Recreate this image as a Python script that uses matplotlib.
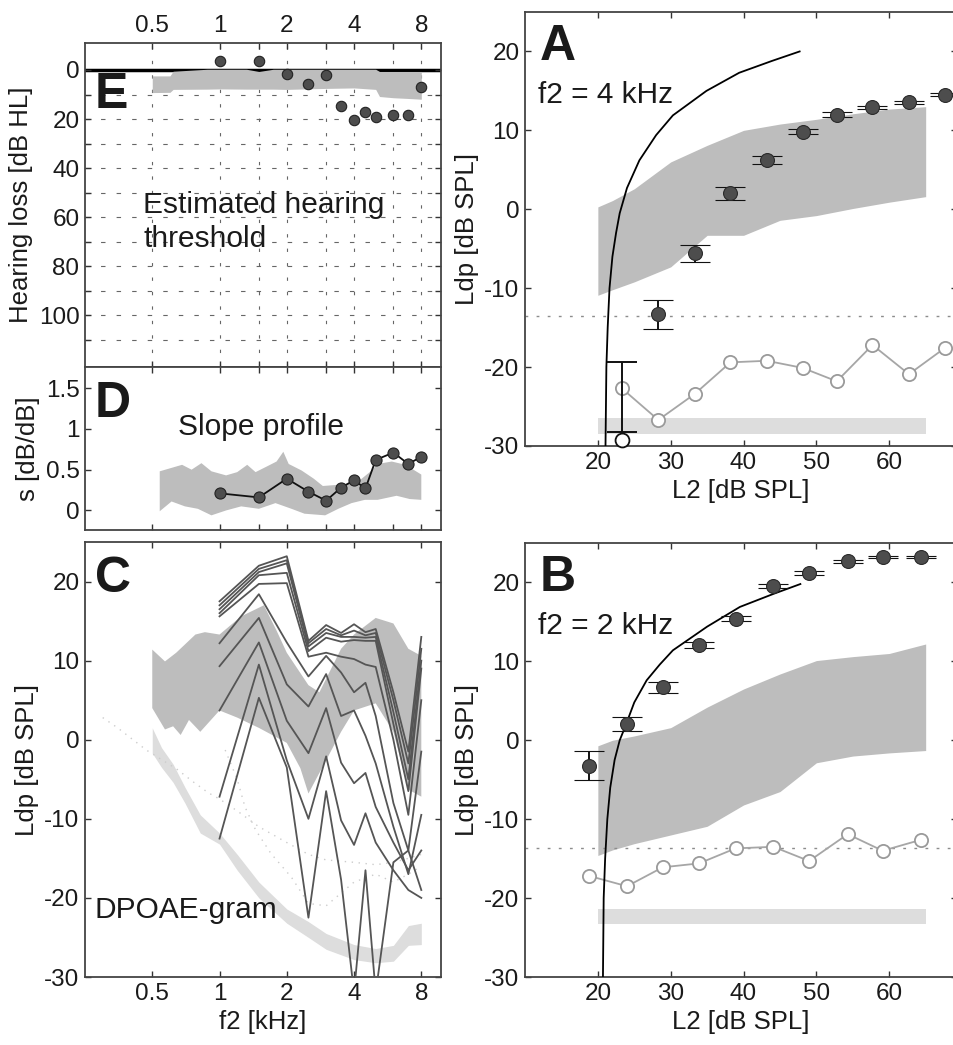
import matplotlib.pyplot as plt
from matplotlib.ticker import FixedLocator, NullFormatter

plt.rcParams['font.family'] = ['Liberation Sans', 'DejaVu Sans']
plt.rcParams['axes.unicode_minus'] = False

# ---- panel E: estimated hearing threshold
freq = [1, 1.5, 2, 2.5, 3, 3.5, 4, 4.5, 5, 6, 7, 8]
hl = [-3.7, -3.8, 1.6, 5.7, 2.0, 14.6, 20.3, 17.3, 19.2, 18.3, 18.3, 6.8]
hl_band_f = [0.5, 0.6, 0.62, 0.88, 1.0, 1.32, 1.5, 1.74, 2.0, 3.0, 4.0, 5.0, 5.2, 6.0, 7.0, 8.0]
hl_band_hi = [2.4, 2.4, 0.5, -0.3, -0.3, -0.3, 0.6, -0.3, -0.3, -0.3, -0.3, -0.3, 0.6, 0.6, 0.6, 0.6]
hl_band_lo = [9.2, 9.1, 7.9, 7.8, 7.7, 7.8, 7.8, 7.8, 7.9, 7.5, 7.3, 7.9, 10.8, 11.3, 11.6, 11.9]

# ---- panel D: slope profile
slope = [0.21, 0.16, 0.39, 0.23, 0.12, 0.28, 0.37, 0.27, 0.62, 0.71, 0.57, 0.66]
sb_f_hi = [0.54, 0.68, 0.75, 0.83, 0.92, 1.07, 1.2, 1.33, 1.45, 1.63, 1.8, 1.93, 2.04,
           2.33, 2.64, 2.9, 3.6, 4.2, 4.75, 5.1, 5.9, 6.8, 8.0]
sb_hi = [0.48, 0.56, 0.50, 0.58, 0.48, 0.43, 0.47, 0.56, 0.47, 0.54, 0.60, 0.72, 0.57,
         0.49, 0.39, 0.30, 0.32, 0.36, 0.48, 0.57, 0.60, 0.56, 0.44]
sb_f_lo = [0.54, 0.61, 0.7, 0.8, 0.92, 1.07, 1.25, 1.5, 1.78, 2.1, 2.4, 2.97, 3.4,
           3.9, 4.47, 5.1, 6.2, 7.1, 8.0]
sb_lo = [-0.01, 0.11, 0.05, 0.02, -0.06, 0.0, 0.05, 0.02, 0.09, 0.02, -0.04, -0.06, 0.02,
         0.09, 0.13, 0.13, 0.18, 0.14, 0.13]

# ---- panel C: DPOAE-gram (one row per L2 level, high to low)
dpgram = [
    [17.5, 22.0, 23.2, 12.5, 14.5, 13.5, 14.6, 13.6, 14.0, 6.0, -1.5, 13.0],
    [17.0, 21.6, 22.7, 12.2, 14.0, 13.2, 13.8, 13.2, 13.5, 5.0, -3.0, 11.5],
    [16.5, 21.2, 22.3, 11.8, 13.5, 13.0, 13.0, 12.9, 13.0, 3.5, -5.0, 10.0],
    [16.0, 20.8, 21.1, 11.2, 12.9, 12.4, 12.6, 12.5, 12.5, 2.0, -6.5, 9.0],
    [15.6, 19.7, 19.8, 10.5, 11.0, 10.5, 10.2, 9.5, 9.2, 0.0, -9.5, 5.0],
    [12.2, 18.4, 12.3, 8.0, 10.6, 8.5, 6.0, 7.2, 3.0, -8.0, -14.0, -1.5],
    [9.3, 15.4, 7.0, 4.2, 8.3, 3.0, 3.7, 0.5, -3.0, -11.0, -17.0, -9.5],
    [3.7, 12.3, 2.4, -1.7, 4.0, -2.9, -5.5, -4.2, -8.5, -13.0, -16.5, -14.0],
    [-7.2, 9.5, -2.6, -10.0, -2.1, -10.2, -13.3, -9.3, -13.0, -16.5, -19.0, -20.0],
    [-12.5, 5.3, -3.5, -22.5, -6.5, -17.7, -32.0, -16.5, -32.0, -15.5, -14.0, -19.0],
]
norm_f = [0.5, 0.57, 0.64, 0.78, 0.86, 1.0, 1.25, 1.58, 1.8, 2.0, 2.5, 2.8, 3.5, 4.0, 5.0, 6.0, 7.0, 8.0]
norm_hi = [11.4, 9.9, 11.0, 13.3, 13.6, 13.3, 15.6, 17.0, 13.8, 11.0, 6.9, 6.0, 11.5, 13.3, 15.4, 14.7, 11.5, 10.6]
norm_f_lo = [0.5, 0.57, 0.62, 0.67, 0.73, 0.82, 1.0, 1.2, 1.5, 2.0, 2.3, 2.5, 3.0, 3.5, 4.0, 5.0, 6.0, 7.0, 8.0]
norm_lo = [4.0, 1.3, 1.7, 0.6, 2.5, 1.0, 3.7, 2.8, 1.5, -0.4, -3.6, -6.8, -2.6, 1.0, 3.7, 4.6, 1.0, -6.3, -7.2]
nf_f = [0.5, 0.55, 0.62, 0.7, 0.82, 1.0, 1.2, 1.5, 2.0, 2.5, 3.0, 4.0, 5.0, 6.0, 7.0, 8.0]
nf_hi = [1.5, -1.0, -3.1, -6.0, -9.5, -11.8, -14.5, -18.0, -21.4, -23.0, -24.5, -25.9, -26.4, -26.0, -23.5, -23.2]
nf_lo = [-1.7, -3.5, -5.4, -8.0, -11.8, -13.2, -16.5, -20.0, -23.2, -25.0, -26.5, -27.8, -28.2, -28.0, -26.0, -25.9]
dots1_f = [0.3, 0.35, 0.41, 0.47, 0.55, 0.65, 0.76, 0.89, 1.0, 1.2, 1.5, 2.0, 2.5, 3, 4, 5, 6, 7, 8]
dots1 = [2.8, 1.5, 0, -1.3, -2.5, -3.8, -5.3, -6.7, -7.5, -9, -11, -13, -14.5, -15.2, -15.5, -15.8, -15.5, -15, -14.5]
dots2_f = [1.06, 1.2, 1.3, 1.45, 1.7, 2.1, 2.5, 3, 4, 5, 6, 7, 8]
dots2 = [-1.3, -5, -8.5, -11.4, -14.4, -17.4, -20.7, -21, -18, -17, -18, -17, -16]

# ---- panels A and B: I/O functions
a_fit_x = [21.05, 21.17, 21.35, 21.6, 22.0, 22.5, 23.0, 24.0, 25.7, 28.0, 30.3, 34.9, 39.4, 43.9, 47.7]
a_fit_y = [-30, -20, -15, -10, -6, -3, -0.5, 2.7, 6.2, 9.4, 11.9, 15.0, 17.3, 18.8, 20.0]
a_l2 = [28.3, 33.3, 38.2, 43.2, 48.1, 52.8, 57.7, 62.7, 67.6]
a_ldp = [-13.3, -5.6, 2.0, 6.2, 9.85, 12.0, 12.9, 13.55, 14.5]
a_err = [1.85, 1.1, 0.8, 0.5, 0.35, 0.3, 0.25, 0.2, 0.2]
a_noise_l2 = [23.3, 28.3, 33.3, 38.2, 43.2, 48.1, 52.8, 57.7, 62.7, 67.6]
a_noise = [-22.7, -26.7, -23.4, -19.4, -19.2, -20.1, -21.8, -17.2, -20.9, -17.6]
band_l2 = [20, 22, 25, 30, 35, 40, 45, 50, 55, 60, 65]
a_band_hi = [0.3, 1.1, 2.6, 6.0, 8.1, 10.0, 10.8, 11.4, 12.1, 12.7, 13.0]
a_band_lo = [-10.9, -10.2, -9.2, -7.3, -3.3, -3.3, -1.4, -0.8, 0.1, 0.9, 1.6]

b_fit_x = [20.7, 20.8, 21.0, 21.3, 21.7, 22.3, 23.0, 23.7, 25.0, 26.7, 28.5, 30.3, 35.0, 39.5, 44.1, 47.8]
b_fit_y = [-30, -20, -15, -10, -6, -2.5, 0.0, 1.6, 4.8, 7.6, 9.6, 11.4, 14.4, 16.9, 18.55, 19.8]
b_l2 = [18.85, 24.0, 28.9, 33.9, 38.9, 44.1, 49.0, 54.3, 59.1, 64.4]
b_ldp = [-3.2, 2.05, 6.7, 12.1, 15.4, 19.6, 21.2, 22.7, 23.2, 23.2]
b_err = [1.8, 0.85, 0.65, 0.4, 0.3, 0.25, 0.2, 0.2, 0.15, 0.15]
b_noise = [-17.2, -18.5, -16.1, -15.6, -13.7, -13.5, -15.3, -11.9, -14.0, -12.6]
b_band_hi = [-0.7, 0.0, 0.55, 1.6, 4.2, 6.5, 8.4, 10.1, 10.6, 11.0, 12.2]
b_band_lo = [-14.6, -13.9, -13.1, -12.0, -10.9, -8.2, -6.5, -2.85, -2.0, -1.6, -1.3]

DARK_BAND = '#bdbdbd'
LIGHT_BAND = '#dddddd'
DOT = '#4d4d4d'
TXT = '#1a1a1a'
TICK_FS = 17.5
LABEL_FS = 18.5
NOTE_FS = 21.5
LETTER_FS = 36

fig = plt.figure(figsize=(9.54, 10.45), dpi=100)
W, H = 954, 1045


def box(x0, y0, x1, y1):
    return [x0 / W, 1 - y1 / H, (x1 - x0) / W, (y1 - y0) / H]


def style(ax):
    ax.tick_params(which='both', direction='in', top=True, right=True, length=4,
                   width=1, labelsize=TICK_FS, colors='#333333', labelcolor=TXT, pad=4)
    for s in ax.spines.values():
        s.set_linewidth(1.3)
        s.set_color('#444444')


def freq_axis(ax, minor=True):
    ax.set_xscale('log')
    ax.set_xlim(0.25, 9.8)
    ax.xaxis.set_major_locator(FixedLocator([0.5, 1, 2, 4, 8]))
    ax.set_xticklabels(['0.5', '1', '2', '4', '8'])
    ax.xaxis.set_minor_locator(FixedLocator([1.5, 3, 6] if minor else []))
    ax.xaxis.set_minor_formatter(NullFormatter())


# ---------------- E
axE = fig.add_axes(box(85, 43, 441, 367))
style(axE)
freq_axis(axE)
axE.set_ylim(121, -11)
axE.set_yticks([0, 20, 40, 60, 80, 100])
axE.yaxis.set_minor_locator(FixedLocator(list(range(10, 120, 20))))
axE.tick_params(labeltop=True, labelbottom=False)
for g in range(10, 120, 10):
    axE.axhline(g, color='#666666', lw=0.8, ls=(0, (4, 10)), zorder=0)
for g in [0.5, 1, 1.5, 2, 3, 4, 6, 8]:
    axE.axvline(g, color='#666666', lw=0.8, ls=(0, (3, 10)), zorder=0)
axE.axhline(0, color='black', lw=2.5, zorder=1)
axE.fill_between(hl_band_f, hl_band_hi, hl_band_lo, color=DARK_BAND, lw=0, zorder=2)
axE.plot(freq, hl, 'o', ms=7.5, mfc=DOT, mec='#222222', mew=0.8, zorder=3)
axE.set_ylabel('Hearing loss [dB HL]', fontsize=LABEL_FS, color=TXT)
axE.text(0.028, 0.80, 'E', transform=axE.transAxes, fontsize=LETTER_FS, fontweight='bold', color=TXT)
axE.text(0.163, 0.475, 'Estimated hearing', transform=axE.transAxes, fontsize=NOTE_FS, color=TXT)
axE.text(0.163, 0.37, 'threshold', transform=axE.transAxes, fontsize=NOTE_FS, color=TXT)

# ---------------- D
axD = fig.add_axes(box(85, 367, 441, 530))
style(axD)
freq_axis(axD)
axD.set_xticklabels([])
axD.set_ylim(-0.24, 1.76)
axD.set_yticks([0, 0.5, 1, 1.5])
axD.set_yticklabels(['0', '0.5', '1', '1.5'])
axD.fill(sb_f_hi + sb_f_lo[::-1], sb_hi + sb_lo[::-1], color=DARK_BAND, lw=0, zorder=1)
axD.plot(freq, slope, '-o', color='#111111', lw=1.3, ms=8, mfc=DOT, mec='#222222', mew=0.8, zorder=3)
axD.set_ylabel('s [dB/dB]', fontsize=LABEL_FS, color=TXT)
axD.text(0.028, 0.693, 'D', transform=axD.transAxes, fontsize=LETTER_FS, fontweight='bold', color=TXT)
axD.text(0.262, 0.58, 'Slope profile', transform=axD.transAxes, fontsize=NOTE_FS, color=TXT)

# ---------------- C
axC = fig.add_axes(box(85, 542, 441, 977))
style(axC)
freq_axis(axC, minor=False)
axC.set_ylim(-30, 25)
axC.set_yticks([-30, -20, -10, 0, 10, 20])
axC.fill(norm_f + norm_f_lo[::-1], norm_hi + norm_lo[::-1], color=DARK_BAND, lw=0, zorder=1)
axC.fill_between(nf_f, nf_hi, nf_lo, color=LIGHT_BAND, lw=0, zorder=1)
axC.plot(dots1_f, dots1, color='#cccccc', lw=1.0, ls=(0, (1, 4)), zorder=2)
axC.plot(dots2_f, dots2, color='#cccccc', lw=1.0, ls=(0, (1, 4)), zorder=2)
for row in dpgram:
    axC.plot(freq, row, color='#555555', lw=1.3, zorder=3)
axC.set_xlabel('f2 [kHz]', fontsize=LABEL_FS, color=TXT)
axC.set_ylabel('Ldp [dB SPL]', fontsize=LABEL_FS, color=TXT)
axC.text(0.028, 0.885, 'C', transform=axC.transAxes, fontsize=LETTER_FS, fontweight='bold', color=TXT)
axC.text(0.028, 0.135, 'DPOAE-gram', transform=axC.transAxes, fontsize=NOTE_FS, color=TXT)


# ---------------- A and B
def io_panel(ax, letter, label, fit_x, fit_y, l2, ldp, err, noise_l2, noise,
             band_hi, band_lo, light_lo, light_hi, thr):
    style(ax)
    ax.set_xlim(10, 69.3)
    ax.set_ylim(-30, 25)
    ax.set_xticks([20, 30, 40, 50, 60])
    ax.set_yticks([-30, -20, -10, 0, 10, 20])
    ax.fill_between(band_l2, band_hi, band_lo, color=DARK_BAND, lw=0, zorder=1)
    ax.fill_between([20, 65], [light_hi, light_hi], [light_lo, light_lo], color=LIGHT_BAND, lw=0, zorder=1)
    ax.axhline(thr, color='#8c8c8c', lw=1.0, ls=(0, (2, 6)), zorder=1)
    ax.plot(noise_l2, noise, '-o', color='#a6a6a6', lw=1.3, ms=9.5, mfc='white',
            mec='#9a9a9a', mew=1.3, zorder=2)
    ax.plot(fit_x, fit_y, color='black', lw=1.3, zorder=3)
    ax.errorbar(l2, ldp, yerr=err, fmt='o', ms=10, mfc=DOT, mec='#2a2a2a', mew=0.8,
                ecolor='#111111', elinewidth=1.4, capsize=11, capthick=1.4, zorder=4)
    ax.set_xlabel('L2 [dB SPL]', fontsize=LABEL_FS, color=TXT)
    ax.set_ylabel('Ldp [dB SPL]', fontsize=LABEL_FS, color=TXT)
    ax.text(0.033, 0.889, letter, transform=ax.transAxes, fontsize=LETTER_FS, fontweight='bold', color=TXT)
    ax.text(0.03, 0.791, label, transform=ax.transAxes, fontsize=NOTE_FS, color=TXT)


# right edge sits just past the canvas, as in the original crop
axA = fig.add_axes(box(525, 12, 957, 446))
io_panel(axA, 'A', 'f2 = 4 kHz', a_fit_x, a_fit_y, a_l2, a_ldp, a_err, a_noise_l2, a_noise,
         a_band_hi, a_band_lo, -28.5, -26.4, -13.5)
# lowest level in A: error bar and an open dot below it
axA.errorbar([23.3], [-23.8], yerr=[4.4], fmt='none', ecolor='#111111', elinewidth=1.4,
             capsize=11, capthick=1.4, zorder=4)
axA.plot([23.3], [-29.3], 'o', ms=10, mfc='white', mec='#111111', mew=1.3, zorder=5, clip_on=False)

axB = fig.add_axes(box(525, 543, 957, 977))
io_panel(axB, 'B', 'f2 = 2 kHz', b_fit_x, b_fit_y, b_l2, b_ldp, b_err, b_l2, b_noise,
         b_band_hi, b_band_lo, -23.3, -21.4, -13.7)

fig.savefig('out.png', dpi=100)
